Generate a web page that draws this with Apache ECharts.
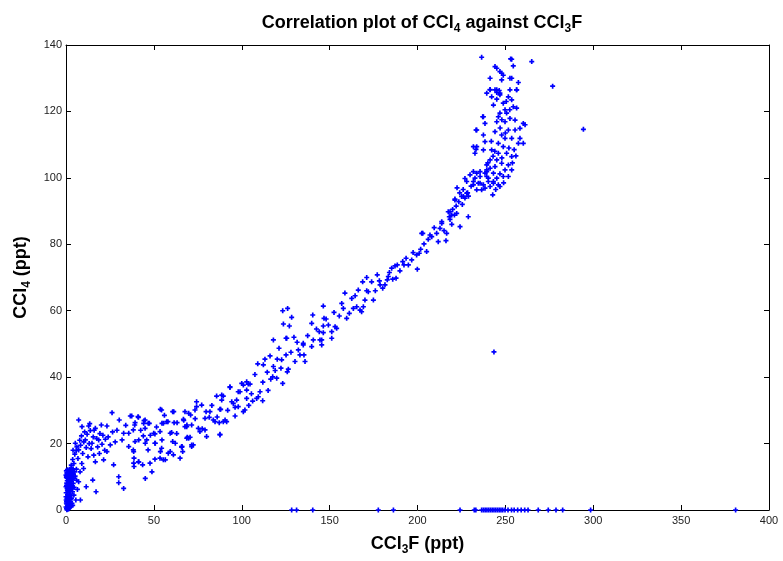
<!DOCTYPE html>
<html>
<head>
<meta charset="utf-8">
<script src="https://cdn.jsdelivr.net/npm/echarts@6/dist/echarts.min.js"></script>
<style>html,body{margin:0;padding:0;background:#fff}#chart{width:783px;height:561px}</style>
</head>
<body>
<div id="chart"></div>
<script>
// Tick values
const xTicks = [0, 50, 100, 150, 200, 250, 300, 350, 400];
const yTicks = [0, 20, 40, 60, 80, 100, 120, 140];

// Points, as [CCl3F, CCl4] in ppt
const zeroColumn = [
[0.3,0.5],[0.8,1.2],[1.5,0.3],[0.2,2.1],[1.1,2.8],[2.0,1.6],[0.5,3.5],[1.8,3.9],[2.6,2.5],[0.9,4.6],
[0.1,5.2],[1.4,5.8],[2.3,4.8],[3.1,3.6],[0.6,6.5],[1.9,6.9],[2.8,6.1],[0.3,7.4],[1.2,7.9],[2.4,8.3],
[3.3,7.2],[0.7,8.8],[1.6,9.4],[2.9,9.1],[0.2,9.9],[1.0,10.4],[2.1,10.8],[3.5,10.1],[0.5,11.2],[1.7,11.6],
[2.7,11.9],[3.9,11.3],[4.4,9.6],[4.1,8.0],[3.7,5.5],[4.6,6.8],[0.4,1.8],[1.3,1.0],[2.2,0.8],[0.9,0.2],
[0.1,3.0],[1.6,2.3],[2.5,3.2],[3.4,2.0],[0.8,5.9],[1.5,4.2],[2.0,5.5],[2.8,4.3],[0.4,8.1],[1.1,6.2],
[2.2,7.0],[3.0,8.7],[0.6,9.6],[1.4,8.6],[2.5,10.0],[3.2,11.0],[0.2,11.8],[1.2,11.1],[2.0,12.3],[3.6,12.0],
[4.2,10.8],[4.8,11.5],[5.2,10.2],[4.5,4.5],[3.8,1.4],[0.0,0.9],[0.0,4.0],[0.0,7.0],[0.0,10.5],[1.0,3.3],
[1.9,7.6],[2.6,9.7],[0.7,10.9],[5.6,3.0],[6.5,6.2],[8.2,3.0],[7.2,8.5],[5.9,12.3],[0.5,0.1],[1.7,0.6],
[2.9,1.1],[0.3,2.6],[1.3,4.0],[2.4,5.9],[3.3,6.6],[0.9,7.2],[1.8,8.8],[2.7,7.5],[3.8,9.4],[0.4,10.0],
[1.5,10.0],[2.4,11.4],[3.0,12.6],[4.0,12.4],[0.8,12.1]
];
const lowBand = [
[3.0,13.5],[3.8,15.2],[4.5,14.0],[5.0,16.8],[5.3,20.1],[5.8,17.9],[6.2,19.0],[6.8,15.5],[7.2,18.1],[7.2,27.1],
[7.8,21.0],[8.3,19.5],[8.8,22.3],[9.1,25.1],[9.5,17.0],[10.1,20.5],[10.6,23.5],[11.0,21.1],[11.5,18.8],[12.0,22.8],
[12.9,25.3],[13.2,20.0],[13.8,23.9],[14.3,18.5],[14.8,20.1],[15.2,9.0],[15.5,22.0],[16.0,24.0],[16.7,24.6],[16.7,14.5],
[17.1,5.5],[17.5,21.5],[18.0,19.0],[18.6,21.1],[19.3,23.0],[20.1,25.6],[20.5,19.8],[21.0,22.5],[21.4,15.1],[22.0,18.0],
[22.4,21.3],[23.3,25.3],[23.3,17.6],[24.0,22.0],[25.2,19.6],[26.2,29.3],[26.5,23.5],[27.1,13.6],[28.0,20.5],[29.0,24.0],
[30.0,10.0],[30.0,8.2],[30.3,27.1],[31.9,21.1],[32.8,23.1],[32.8,6.5],[8.0,11.5],[6.0,9.0],[11.5,7.0],[10.0,12.5],
[12.5,16.0],[9.0,14.0],[4.0,18.0],[13.5,26.0],[19.0,17.0],[15.8,16.5],
[35.7,19.1],[35.7,23.1],[36.6,28.3],[38.5,17.6],[38.5,14.1],[39.1,25.6],[41.0,28.1],[41.4,21.1],[41.4,14.5],[44.2,26.1],
[45.0,27.1],[45.1,20.1],[45.1,9.5],[46.7,18.1],[47.4,26.1],[48.9,11.5],[49.9,23.1],[50.8,20.1],[53.7,30.3],[53.7,17.6],
[54.6,26.1],[54.6,21.1],[56.5,15.1],[58.0,26.6],[59.3,17.6],[59.3,23.1],[61.3,29.6],[62.2,20.1],[63.2,26.3],[66.0,19.1],
[68.8,25.6],[69.8,29.1],[69.8,21.6],[37.4,28.3],[41.2,27.9],[39.3,26.3],[44.4,26.9],[46.8,26.1],[45.0,24.6],[38.3,24.1],
[44.0,22.3],[39.3,20.6],[38.3,18.1],[45.9,21.1],[50.6,22.9],[50.6,20.1],[54.4,30.1],[53.5,23.6],[55.4,26.1],[57.3,26.6],
[60.7,29.6],[61.5,26.3],[60.1,23.3],[60.7,20.6],[54.4,18.6],[53.5,15.6],[55.4,15.1],[58.2,17.1],[61.1,16.6],[65.8,19.1],
[66.4,17.6],[68.7,21.6],[70.6,21.9],[71.5,19.6],[66.8,27.3],[67.7,25.1],[70.9,28.6],[71.5,25.6],[74.3,32.6],[73.4,30.1],
[77.2,31.6],[75.3,24.6],[76.2,23.6],[80.0,22.1],[79.1,27.6],[38.7,15.6],[41.2,14.5],[43.6,13.6],[47.8,14.1],[38.7,13.1],
[50.6,15.3],[64.9,15.6],[67.7,29.6],[68.7,25.1],[71.5,19.1],[74.3,31.1],[79.7,29.6],[79.1,24.1],[65.8,18.9],[69.0,21.9],
[72.4,19.6],[34.0,25.5],[42.5,24.0],[48.0,22.5],[51.5,25.0],[56.0,28.5],[63.0,23.0],[67.0,27.0],[73.5,27.5],[77.5,24.5]
];
const midBand = [
[81.5,27.9],[81.9,29.6],[84.8,26.6],[87.6,30.3],[87.2,26.3],[87.6,22.8],[88.6,33.1],[91.4,26.6],[89.5,34.3],[93.3,37.1],
[95.2,32.1],[97.1,33.1],[99.0,35.6],[101.8,30.1],[100.9,37.6],[103.7,37.9],[102.8,33.6],[98.0,31.1],[83.8,27.1],[85.7,34.3],
[88.6,34.6],[88.0,30.3],[89.5,26.6],[90.5,27.1],[87.6,22.6],[93.3,36.9],[94.3,32.6],[96.2,30.9],[98.0,35.6],[100.0,38.1],
[102.8,38.6],[102.8,36.1],[104.7,37.9],[96.2,28.3],[100.9,29.6],[106.2,32.8],[108.5,33.6],[110.4,35.6],[109.4,34.1],[111.9,32.9],
[107.5,40.8],[109.1,44.0],[112.3,43.7],[113.2,45.4],[116.1,46.4],[118.0,43.2],[117.6,40.1],[116.5,39.4],[119.9,39.7],[122.3,42.7],
[123.3,38.1],[120.2,45.4],[121.2,48.7],[118.0,51.2],[125.6,51.7],[129.7,52.0],[125.2,46.7],[125.9,41.6],[126.5,42.4],[122.7,45.2],
[130.3,44.7],[132.2,48.2],[135.0,49.7],[135.4,46.7],[136.0,44.7],[140.7,51.2],[144.1,53.7],[146.4,53.4],[145.5,51.2],[145.5,49.7],
[133.1,46.7],[123.3,60.0],[126.1,60.7],[128.4,58.0],[123.7,56.0],[127.1,55.4],[125.2,51.7],[135.0,50.2],[139.8,49.2],[140.4,58.7],
[139.8,56.2],[144.5,51.2],[146.4,61.4],[146.8,57.7],[146.4,55.4],[149.3,55.7],[151.2,53.7],[153.1,55.2],[154.0,54.7],[151.2,51.7],
[155.5,58.4],[156.9,62.2],[158.7,65.3],[157.8,60.7],[159.7,57.7],[83.0,31.5],[86.0,28.0],[92.0,30.0],[105.5,35.0],[114.5,41.5],
[112.0,38.5],[119.0,42.0],[128.0,47.5],[131.5,50.5],[137.5,52.5],[142.5,54.5],[148.0,57.5],[152.5,59.5],[115.0,36.0],[104.0,31.5]
];
const upperBand = [
[161.2,59.2],[162.6,63.7],[163.5,60.7],[165.4,61.2],[166.3,66.2],[167.3,60.2],[169.2,61.2],[168.2,59.7],[170.1,63.2],[171.1,66.0],
[172.0,65.7],[168.8,68.7],[171.1,70.0],[173.9,68.7],[174.9,63.2],[177.1,70.8],[178.7,67.8],[180.2,66.8],[178.3,69.0],[181.5,67.8],
[182.8,69.3],[183.4,70.3],[185.3,72.8],[187.2,73.5],[188.5,73.8],[185.9,69.5],[187.8,69.8],[191.6,74.8],[193.5,75.8],[192.3,73.8],
[194.8,73.8],[196.7,75.3],[199.9,72.5],[199.5,76.8],[201.0,77.3],[201.8,78.5],[203.0,83.3],[205.2,77.8],[203.7,80.1],[206.1,81.5],
[208.1,82.3],[210.9,83.3],[211.8,80.8],[212.8,84.8],[213.8,86.3],[215.1,84.1],[216.2,81.1],[216.6,83.3],[217.5,89.8],[218.1,88.3],
[202.4,83.3],[207.1,82.8],[213.8,86.8],[218.5,89.8],[219.5,88.8],[222.3,89.3],[224.2,85.3],[228.9,88.3],[221.3,93.3],[226.1,94.4],
[228.0,95.4],[218.5,87.5],[220.0,90.5],[222.0,91.5],[223.5,92.8],[219.5,86.0],[221.0,88.8],[224.0,95.5],[226.0,96.5],[225.5,92.0],
[228.5,95.5],[230.5,97.5],[222.5,97.0],[227.0,99.8],[229.0,94.5],[164.5,64.5],[176.0,66.0],[184.0,71.5],[190.0,72.0],[197.5,77.5],
[209.5,85.0],[221.3,93.6],[225.1,94.4],[227.0,93.9]
];
const topCluster = [
[228.0,98.9],[229.9,100.9],[231.8,98.9],[232.7,107.4],[233.3,114.4],[233.7,96.4],[234.6,98.4],[235.6,100.4],[236.5,96.4],[237.1,118.4],
[238.4,116.4],[237.5,112.9],[238.4,110.9],[237.5,108.4],[239.4,103.9],[238.4,101.4],[240.3,99.9],[241.3,97.4],[241.3,105.4],[242.2,108.4],
[243.2,101.4],[242.8,94.9],[244.1,113.9],[245.1,116.9],[246.0,118.4],[243.2,121.9],[242.2,124.4],[241.3,126.6],[244.1,126.5],[245.1,125.7],
[246.5,126.3],[236.5,136.3],[244.1,133.5],[246.9,132.0],[248.8,130.9],[247.9,129.5],[252.6,130.0],[253.6,135.7],[254.5,133.7],[257.4,128.7],
[256.4,126.5],[252.6,126.5],[251.7,124.4],[253.6,123.5],[248.8,122.5],[254.5,121.4],[246.9,119.5],[250.7,119.5],[252.6,117.9],[255.5,117.4],
[249.8,116.9],[260.2,116.4],[261.2,116.0],[258.3,114.9],[255.5,114.4],[251.7,114.4],[247.9,112.9],[249.8,111.9],[253.6,111.9],[258.3,111.9],
[260.2,110.4],[257.4,110.4],[246.0,110.4],[248.8,109.4],[246.0,107.4],[250.7,107.4],[253.6,106.4],[256.0,106.6],[245.1,105.4],[247.9,104.4],
[251.7,103.9],[244.1,103.4],[249.8,102.4],[253.6,102.4],[246.9,101.2],[245.1,99.9],[248.8,100.4],[251.7,100.4],[241.3,102.9],[239.4,101.9],
[240.3,98.9],[243.2,98.9],[246.0,97.9],[246.9,97.4],[237.5,97.9],[235.6,101.9],[231.8,101.9],[233.3,108.6],[241.3,130.0],[239.4,125.5],
[245.1,123.7],[246.9,125.0],[256.4,121.0],[249.8,120.5],[233.7,109.4],[238.4,96.9],[232.7,99.9],[233.7,101.4],[231.8,97.9],[235.6,98.4],
[239.4,100.4],[239.4,102.4],[243.2,98.4],[231.8,109.4],[233.7,114.4],[237.5,118.4],[253.0,135.8],[265.0,135.0],[245.1,133.0],[247.9,131.5],
[253.6,130.0],[241.3,126.5],[245.1,126.5],[246.9,125.5],[256.4,126.5],[244.0,108.0],[247.0,115.0],[250.0,113.5],[243.0,106.5],[248.0,106.0],
[252.0,109.0],[255.0,108.5],[242.0,111.0],[249.0,98.5],[244.5,96.5],[240.0,104.5],[252.5,120.5],[250.5,123.0],[248.0,117.5],[254.0,104.5]
];
const outliers = [[276.9,127.6],[294.4,114.6],[243.5,47.6]];
const baseline = [
[128.4,0],[131.2,0],[140.4,0],[177.7,0],[186.3,0],[224.2,0],[232.3,0],[233.2,0],[236.5,0],[237.5,0],
[238.5,0],[239.5,0],[240.5,0],[241.5,0],[242.5,0],[243.5,0],[244.5,0],[245.5,0],[246.5,0],[247.5,0],
[248.5,0],[249.8,0],[251.5,0],[253.5,0],[255.0,0],[257.0,0],[259.0,0],[261.0,0],[262.9,0],[268.7,0],
[274.4,0],[278.8,0],[282.6,0],[298.5,0],[381.0,0]
];

const allPoints = [].concat(zeroColumn, lowBand, midBand, upperBand, topCluster, outliers, baseline);

const font = 'Liberation Sans, Arial, Helvetica, sans-serif';
const chart = echarts.init(document.getElementById('chart'), null, {renderer: 'canvas'});

const boxAxis = (pos, ticks) => ({
  type: 'value', position: pos, min: ticks[0], max: ticks[ticks.length - 1], interval: ticks[1] - ticks[0],
  axisLine: {show: true, onZero: false, lineStyle: {color: '#000', width: 1}},
  axisTick: {show: true, inside: true, length: 5, lineStyle: {color: '#000'}},
  axisLabel: {show: false}, splitLine: {show: false}
});

const nameRich = {
  t: {fontFamily: font, fontSize: 18, fontWeight: 'bold', color: '#000', lineHeight: 24, verticalAlign: 'middle'},
  s: {fontFamily: font, fontSize: 12, fontWeight: 'bold', color: '#000', verticalAlign: 'bottom'}
};

chart.setOption({
  animation: false,
  backgroundColor: '#fff',
  title: {
    text: '{t|Correlation plot of CCl}{s|4}{t| against CCl}{s|3}{t|F}',
    left: 417, top: 6, textAlign: 'center',
    textStyle: {
      rich: {
        t: {fontFamily: font, fontSize: 18, fontWeight: 'bold', color: '#000', lineHeight: 24, verticalAlign: 'middle'},
        s: {fontFamily: font, fontSize: 12, fontWeight: 'bold', color: '#000', verticalAlign: 'bottom'}
      }
    }
  },
  grid: {left: 66, right: 14, top: 45, bottom: 51, containLabel: false},
  xAxis: [
    {
      type: 'value', position: 'bottom', min: xTicks[0], max: xTicks[xTicks.length - 1], interval: xTicks[1] - xTicks[0],
      axisLine: {show: true, onZero: false, lineStyle: {color: '#000', width: 1}},
      axisTick: {show: true, inside: true, length: 5, lineStyle: {color: '#000'}},
      axisLabel: {color: '#222', fontFamily: font, fontSize: 11, margin: 5},
      splitLine: {show: false},
      name: '{t|CCl}{s|3}{t|F (ppt)}', nameLocation: 'middle', nameGap: 22,
      nameTextStyle: {rich: nameRich}
    },
    boxAxis('top', xTicks)
  ],
  yAxis: [
    {
      type: 'value', position: 'left', min: yTicks[0], max: yTicks[yTicks.length - 1], interval: yTicks[1] - yTicks[0],
      axisLine: {show: true, onZero: false, lineStyle: {color: '#000', width: 1}},
      axisTick: {show: true, inside: true, length: 5, lineStyle: {color: '#000'}},
      axisLabel: {color: '#222', fontFamily: font, fontSize: 11, margin: 4},
      splitLine: {show: false},
      name: '{t|CCl}{s|4}{t| (ppt)}', nameLocation: 'middle', nameGap: 33, nameRotate: 90,
      nameTextStyle: {rich: nameRich}
    },
    boxAxis('right', yTicks)
  ],
  series: [{
    type: 'scatter',
    xAxisIndex: 0, yAxisIndex: 0,
    data: allPoints,
    symbol: 'path://M1,0H2V1H3V2H2V3H1V2H0V1H1Z',
    symbolSize: 5,
    itemStyle: {color: '#0000ff', opacity: 1},
    clip: false
  }]
});
</script>
</body>
</html>
